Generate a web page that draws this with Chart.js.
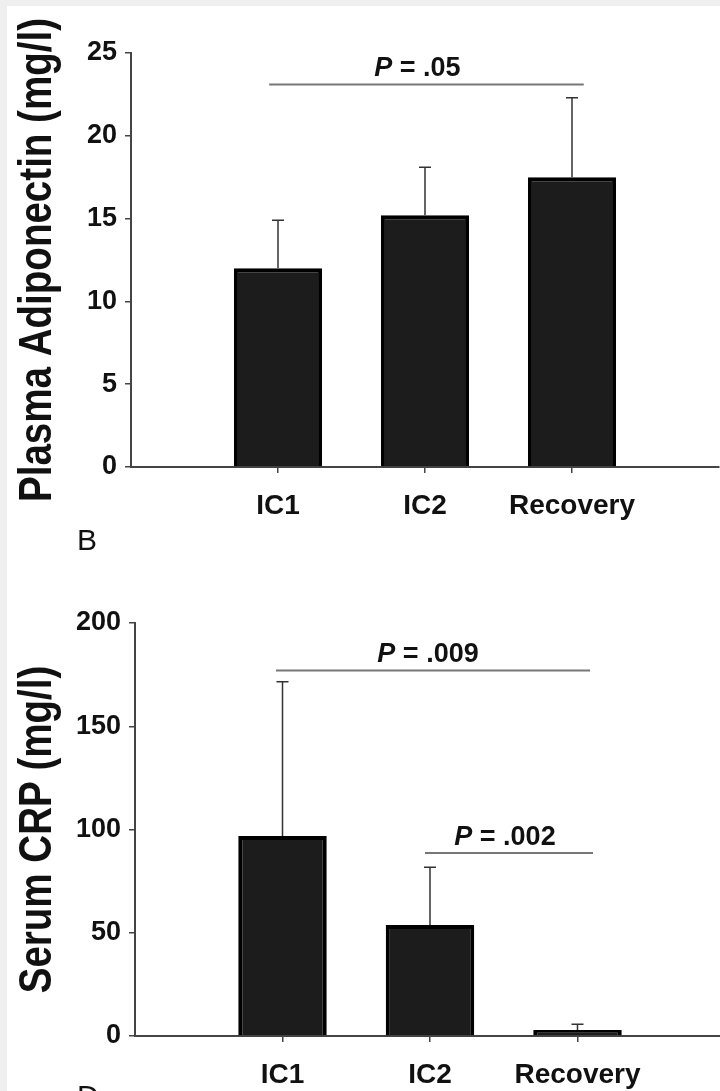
<!DOCTYPE html>
<html>
<head>
<meta charset="utf-8">
<script src="https://cdn.jsdelivr.net/npm/chart.js@4.4.1/dist/chart.umd.min.js"></script>
<style>
  html, body { margin: 0; padding: 0; background: #efefef; overflow: hidden; }
  #page { position: relative; width: 720px; height: 1091px; overflow: hidden; }
  #panel { position: absolute; left: 7px; top: 6px; right: 0; bottom: 0; background: #fff; }
  #wrapA { position: absolute; left: 0; top: 0; width: 720px; height: 560px; }
  #wrapB { position: absolute; left: 0; top: 560px; width: 726px; height: 560px; }
  canvas { display: block; }
</style>
</head>
<body>
<div id="page">
  <div id="panel"></div>
  <div id="wrapA"><canvas id="chartA" width="720" height="560"></canvas></div>
  <div id="wrapB"><canvas id="chartB" width="726" height="560"></canvas></div>
</div>
<script>
// Sampling points
const categories = ['IC1', 'IC2', 'Recovery'];

// Plasma adiponectin (mg/l): mean and SD
const adiponectinMean = [12.0, 15.2, 17.5];
const adiponectinSD = [2.9, 2.9, 4.8];
const adiponectinTicks = [0, 5, 10, 15, 20, 25];
const adiponectinP = ['.05'];

// Serum CRP (mg/l): mean and SD
const crpMean = [96.8, 53.7, 2.9];
const crpSD = [74.7, 28.0, 2.8];
const crpTicks = [0, 50, 100, 150, 200];
const crpP = ['.009', '.002'];

const SANS = '"Liberation Sans", Arial, Helvetica, sans-serif';
const AXIS = '#444';
const INK = '#111';

// Axis title (condensed bold), error bars, significance brackets and panel letter
const annotatePlugin = {
  id: 'annotate',
  afterDatasetsDraw(chart, args, opts) {
    const { ctx } = chart;
    const x = chart.scales.x, y = chart.scales.y;
    ctx.save();

    // upper error whiskers
    ctx.strokeStyle = '#333';
    ctx.lineWidth = 1.5;
    opts.means.forEach((v, i) => {
      const px = x.getPixelForValue(i + 1);
      const yBase = y.getPixelForValue(v);
      const yTop = y.getPixelForValue(v + opts.errors[i]);
      ctx.beginPath();
      ctx.moveTo(px, yBase);
      ctx.lineTo(px, yTop);
      ctx.moveTo(px - 6, yTop);
      ctx.lineTo(px + 6, yTop);
      ctx.stroke();
    });

    // significance brackets with P values
    opts.brackets.forEach((b, k) => {
      const x1 = x.getPixelForValue(b.from);
      const x2 = x.getPixelForValue(b.to);
      const py = y.getPixelForValue(b.at);
      ctx.strokeStyle = '#777';
      ctx.lineWidth = 2;
      ctx.beginPath();
      ctx.moveTo(x1, py);
      ctx.lineTo(x2, py);
      ctx.stroke();

      const fItalic = 'italic bold 27px ' + SANS;
      const fBold = 'bold 27px ' + SANS;
      const rest = ' = ' + opts.pValues[k];
      ctx.font = fItalic;
      const w1 = ctx.measureText('P').width;
      ctx.font = fBold;
      const w2 = ctx.measureText(rest).width;
      const sx = (x1 + x2) / 2 - (w1 + w2) / 2 - (b.shift || 5);
      ctx.fillStyle = INK;
      ctx.textBaseline = 'alphabetic';
      ctx.textAlign = 'left';
      ctx.font = fItalic;
      ctx.fillText('P', sx, py - 8);
      ctx.font = fBold;
      ctx.fillText(rest, sx + w1, py - 8);
    });

    // rotated y-axis title, condensed along its length
    ctx.save();
    ctx.translate(opts.titleX, (y.top + y.bottom) / 2);
    ctx.rotate(-Math.PI / 2);
    ctx.scale(0.82, 1);
    ctx.font = 'bold 47px ' + SANS;
    ctx.fillStyle = INK;
    ctx.textAlign = 'center';
    ctx.textBaseline = 'alphabetic';
    ctx.fillText(opts.title, 0, 0);
    ctx.restore();

    // panel letter
    ctx.font = '30px ' + SANS;
    ctx.fillStyle = INK;
    ctx.textAlign = 'left';
    ctx.textBaseline = 'alphabetic';
    ctx.fillText(opts.panel, opts.panelX, opts.panelY);
    ctx.restore();
  }
};

function makeChart(canvasId, cfg) {
  return new Chart(document.getElementById(canvasId), {
    type: 'bar',
    data: {
      datasets: [{
        data: cfg.means.map((v, i) => ({ x: i + 1, y: v })),
        backgroundColor: '#1c1c1c',
        borderColor: '#000',
        borderWidth: 4,
        barPercentage: 0.6,
        categoryPercentage: 1.0
      }]
    },
    options: {
      responsive: false,
      animation: false,
      devicePixelRatio: 1,
      layout: { padding: cfg.padding },
      plugins: {
        legend: { display: false },
        tooltip: { enabled: false },
        annotate: {
          means: cfg.means,
          errors: cfg.errors,
          brackets: cfg.brackets,
          pValues: cfg.pValues,
          title: cfg.title,
          titleX: 51,
          panel: cfg.panel,
          panelX: 77,
          panelY: cfg.panelY
        }
      },
      scales: {
        x: {
          type: 'linear',
          min: 0,
          max: 4,
          offset: false,
          grid: {
            offset: false,
            drawOnChartArea: false,
            drawTicks: true,
            tickLength: 6,
            lineWidth: 1.5,
            color: c => (c.tick && c.tick.value >= 1 && c.tick.value <= categories.length) ? AXIS : 'rgba(0,0,0,0)'
          },
          border: { display: true, color: AXIS, width: 2 },
          ticks: {
            stepSize: 1,
            autoSkip: false,
            maxRotation: 0,
            padding: 16,
            color: INK,
            font: { family: SANS, weight: 'bold', size: 28 },
            callback: v => categories[v - 1] || ''
          },
          afterFit: s => {
            s.height = cfg.xHeight;
            s.paddingLeft = 0;
            s.paddingRight = 0;
          }
        },
        y: {
          min: 0,
          max: cfg.ticks[cfg.ticks.length - 1],
          afterBuildTicks: s => { s.ticks = cfg.ticks.map(v => ({ value: v })); },
          grid: { drawOnChartArea: false, drawTicks: true, tickLength: 6, lineWidth: 1.5, color: AXIS },
          border: { display: true, color: AXIS, width: 2 },
          ticks: {
            padding: 8,
            color: INK,
            font: { family: SANS, weight: 'bold', size: 27 }
          },
          title: { display: false },
          afterFit: s => { s.width = cfg.yWidth; }
        }
      }
    },
    plugins: [annotatePlugin]
  });
}

makeChart('chartA', {
  means: adiponectinMean,
  errors: adiponectinSD,
  ticks: adiponectinTicks,
  pValues: adiponectinP,
  brackets: [{ from: 0.94, to: 3.08, at: 23.1, shift: 9 }],
  title: 'Plasma Adiponectin (mg/l)',
  panel: 'B',
  panelY: 550,
  padding: { left: 7, top: 53, right: 1, bottom: 33 },
  yWidth: 124,
  xHeight: 60
});

makeChart('chartB', {
  means: crpMean,
  errors: crpSD,
  ticks: crpTicks,
  pValues: crpP,
  brackets: [
    { from: 0.956, to: 3.085, at: 177, shift: 5 },
    { from: 1.966, to: 3.105, at: 88.6, shift: 4 }
  ],
  title: 'Serum CRP (mg/l)',
  panel: 'D',
  panelY: 546,
  padding: { left: 7, top: 63, right: 1, bottom: 24 },
  yWidth: 128,
  xHeight: 60
});
</script>
</body>
</html>
